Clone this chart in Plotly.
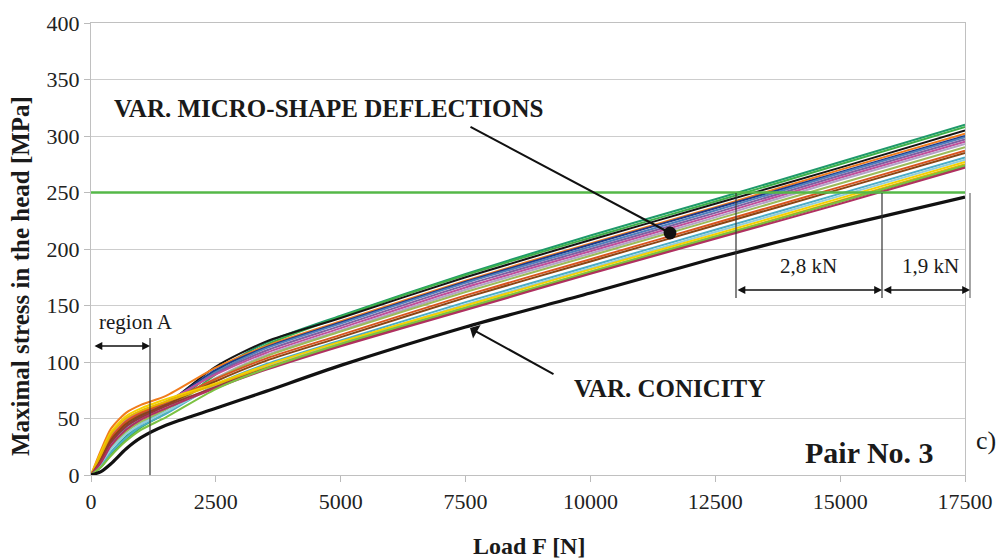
import plotly.graph_objects as go

# Load points [N]
load_F = [0, 200, 400, 700, 1000, 1500, 2500, 3500, 5000, 7500, 10000, 12500, 15000, 17500]

# Variants of micro-shape deflections: (color, stresses [MPa])
micro_colors = ["#1f9a6a", "#3cb04a", "#151515", "#f07c1c", "#1f3a8a", "#4f81bd",
                "#7f5fa0", "#c0509c", "#b3a2c7", "#9bbb59", "#d9541e", "#8b4513",
                "#4bacc6", "#92cddc", "#f5d000", "#e6b800", "#953735", "#b03060",
                "#7cc242"]
micro_values = [
    [0, 8, 20, 34, 45, 58, 92, 117, 141, 178, 212, 244, 277, 310],
    [0, 7, 18, 31, 42, 55, 89, 115, 140, 177, 210, 242, 275, 308],
    [0, 11, 25, 39, 49, 62, 96, 118, 139, 175, 208, 240, 272, 305],
    [0, 22, 41, 55, 62, 70, 95, 114, 136, 172, 205, 237, 270, 302],
    [0, 13, 29, 43, 52, 63, 93, 113, 135, 171, 204, 236, 268, 300],
    [0, 12, 28, 42, 51, 62, 91, 112, 134, 170, 202, 234, 267, 299],
    [0, 15, 32, 46, 54, 64, 90, 110, 132, 168, 200, 232, 265, 297],
    [0, 17, 34, 48, 56, 65, 89, 108, 130, 166, 198, 230, 263, 295],
    [0, 11, 26, 40, 49, 60, 86, 106, 128, 164, 196, 228, 261, 293],
    [0, 10, 24, 38, 47, 58, 85, 105, 127, 162, 194, 226, 258, 290],
    [0, 16, 33, 47, 55, 64, 85, 103, 124, 159, 191, 223, 255, 287],
    [0, 14, 31, 45, 53, 62, 83, 101, 122, 157, 189, 221, 253, 285],
    [0, 8, 20, 33, 43, 54, 80, 98, 119, 153, 185, 217, 249, 281],
    [0, 10, 23, 36, 45, 56, 79, 96, 117, 151, 183, 215, 247, 279],
    [0, 20, 38, 52, 59, 67, 81, 97, 118, 150, 182, 213, 245, 277],
    [0, 18, 36, 50, 57, 65, 80, 95, 116, 148, 180, 211, 243, 275],
    [0, 13, 29, 43, 51, 61, 78, 94, 115, 147, 179, 210, 242, 273],
    [0, 11, 26, 40, 49, 59, 77, 93, 114, 146, 178, 209, 240, 272],
    [0, 7, 17, 30, 40, 51, 76, 94, 116, 148, 180, 211, 242, 274],
]

# Variant of conicity
conicity_values = [0, 3, 10, 23, 33, 44, 59, 74, 97, 131, 161, 192, 220, 246]

# Allowed stress level
limit_F = [0, 17500]
limit_values = [250, 250]

# Axis ticks
x_ticks = [0, 2500, 5000, 7500, 10000, 12500, 15000, 17500]
y_ticks = [0, 50, 100, 150, 200, 250, 300, 350, 400]

SERIF = "Liberation Serif"

fig = go.Figure()
for col, vals in zip(micro_colors, micro_values):
    fig.add_trace(go.Scatter(x=load_F, y=vals, mode="lines",
                             line=dict(color=col, width=2, shape="spline", smoothing=0.7),
                             hoverinfo="skip", showlegend=False))
fig.add_trace(go.Scatter(x=load_F, y=conicity_values, mode="lines",
                         line=dict(color="#111111", width=3.2, shape="spline", smoothing=0.7),
                         showlegend=False))
fig.add_trace(go.Scatter(x=limit_F, y=limit_values, mode="lines",
                         line=dict(color="#55b848", width=2.4), showlegend=False))

def px(xp):
    return (xp - 91) / 874.0

def py(yp):
    return (475 - yp) / 452.0

ann = []
def txt(s, x, y, size, bold=False, angle=0):
    return dict(text=("<b>%s</b>" % s) if bold else s, x=px(x), y=py(y),
                xref="paper", yref="paper", showarrow=False, textangle=angle,
                font=dict(family=SERIF, size=size, color="#1a1a1a"),
                xanchor="center", yanchor="middle")

ann.append(txt("VAR. MICRO-SHAPE DEFLECTIONS", 328, 108, 25, True))
ann.append(txt("VAR. CONICITY", 669, 388, 25, True))
ann.append(txt("region A", 136, 322, 21))
ann.append(txt("Pair No. 3", 869, 452, 30, True))
ann.append(txt("c)", 986, 440, 26))
ann.append(txt("2,8 kN", 808, 266, 21))
ann.append(txt("1,9 kN", 930, 266, 21))
ann.append(txt("Load F [N]", 529, 546, 24, True))
ann.append(txt("Maximal stress in the head [MPa]", 20, 276, 25, True, angle=-90))

def arrow(hx, hy, tx, ty, head, side="end", width=2, size=1.0, color="#111111"):
    return dict(text="", x=px(hx), y=py(hy), xref="paper", yref="paper",
                ax=tx - hx, ay=ty - hy, axref="pixel", ayref="pixel",
                showarrow=True, arrowhead=head, startarrowhead=head, arrowside=side,
                arrowwidth=width, arrowsize=size, startarrowsize=size,
                arrowcolor=color, standoff=0, startstandoff=0)

ann.append(arrow(670, 233, 469, 126, 6, width=2, size=1.6))
ann.append(arrow(470, 328, 555, 375, 1, width=2, size=1.3))
ann.append(arrow(150, 346, 93, 346, 2, side="end+start", width=1.3, size=1.2))
ann.append(arrow(882, 290, 736, 290, 2, side="end+start", width=1.3, size=1.2))
ann.append(arrow(970, 290, 882, 290, 2, side="end+start", width=1.3, size=1.2))

shapes = []
def vline(x, y0, y1, color="#333333", w=1.2):
    return dict(type="line", xref="paper", yref="paper", x0=px(x), x1=px(x),
                y0=py(y0), y1=py(y1), line=dict(color=color, width=w))
shapes.append(vline(150, 338, 475))
shapes.append(vline(736, 193, 298))
shapes.append(vline(882, 193, 298))
shapes.append(vline(970, 193, 298, color="#888888", w=1.5))

fig.update_layout(
    width=1006, height=558,
    margin=dict(l=91, r=41, t=23, b=83),
    paper_bgcolor="white", plot_bgcolor="white",
    font=dict(family=SERIF, size=22, color="#222222"),
    annotations=ann, shapes=shapes,
    xaxis=dict(range=[0, 17500], tickvals=x_ticks, ticktext=[str(v) for v in x_ticks],
               ticks="outside", ticklen=6, tickcolor="#bbbbbb", showgrid=False,
               showline=True, linecolor="#c0c0c0", linewidth=1.2, mirror=True, zeroline=False,
               tickfont=dict(family=SERIF, size=22, color="#222222")),
    yaxis=dict(range=[0, 400], tickvals=y_ticks, ticktext=[str(v) for v in y_ticks],
               ticks="outside", ticklen=6, tickcolor="#bbbbbb",
               showgrid=True, gridcolor="#cdcdcd", gridwidth=1.2,
               showline=True, linecolor="#c0c0c0", linewidth=1.2, mirror=True, zeroline=False,
               tickfont=dict(family=SERIF, size=22, color="#222222")),
)

fig.write_html("out.html")
